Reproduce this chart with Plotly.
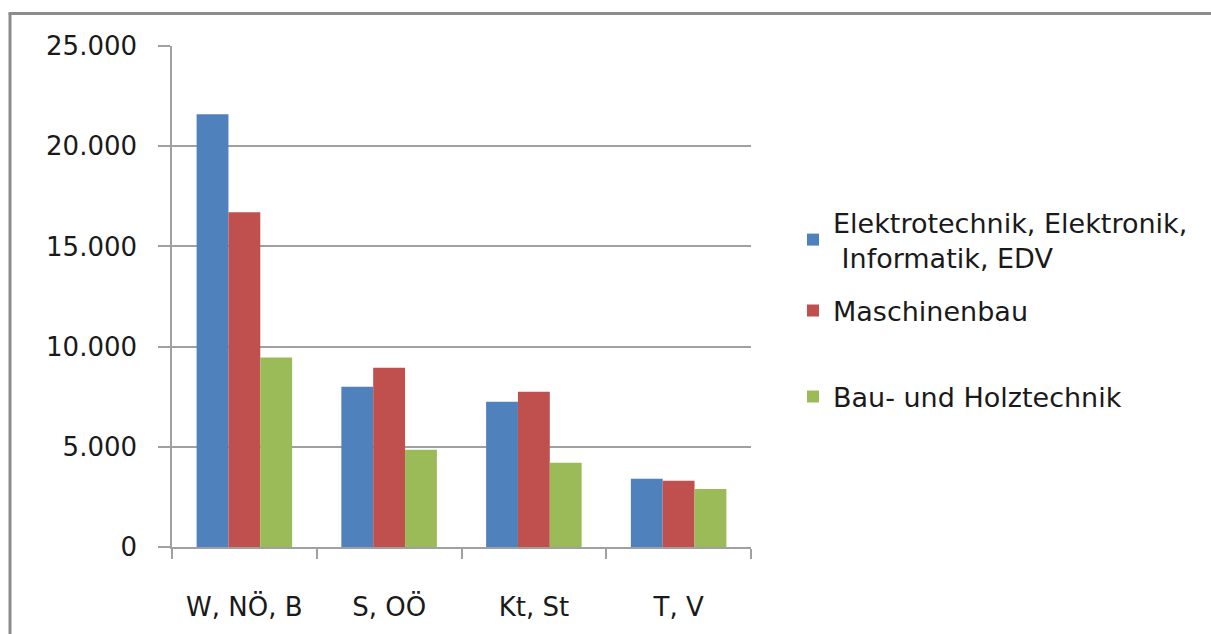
import plotly.graph_objects as go

categories = ["W, NÖ, B", "S, OÖ", "Kt, St", "T, V"]
elektro = [21600, 8000, 7250, 3400]
maschinenbau = [16700, 8950, 7750, 3300]
bau_holz = [9450, 4850, 4200, 2900]

series_names = ["Elektrotechnik, Elektronik,<br> Informatik, EDV", "Maschinenbau", "Bau- und Holztechnik"]
colors = ["#4F81BD", "#C0504D", "#9BBB59"]

W, H = 1211, 634
L, R, T, B = 172, 751, 46, 547.5

fig = go.Figure()
for i, (name, vals, col) in enumerate(zip(series_names, [elektro, maschinenbau, bau_holz], colors)):
    fig.add_trace(go.Bar(
        x=categories, y=vals, name=name,
        marker=dict(color=col, line=dict(width=0)),
        legend="legend" if i == 0 else f"legend{i+1}",
    ))

font_family = "DejaVu Sans"
leg_centers = [240, 311, 397]
leg_common = dict(
    xref="container", yref="container", x=793 / W, xanchor="left", yanchor="middle",
    font=dict(family=font_family, size=27, color="#1a1a1a"),
    bgcolor="rgba(0,0,0,0)", borderwidth=0,
)

def px_to_paper_x(px):
    return (px - L) / (R - L)

def py_to_paper_y(py):
    return (B - py) / (B - T)

fig.update_layout(
    width=W, height=H,
    margin=dict(l=L, r=W - R, t=T, b=H - B, pad=0),
    paper_bgcolor="white", plot_bgcolor="white",
    separators=",.",
    barmode="group", bargap=0.34, bargroupgap=0,
    font=dict(family=font_family, size=26, color="#1a1a1a"),
    showlegend=True,
    legend=dict(y=1 - leg_centers[0] / H, **leg_common),
    legend2=dict(y=1 - leg_centers[1] / H, **leg_common),
    legend3=dict(y=1 - leg_centers[2] / H, **leg_common),
    xaxis=dict(
        type="category", tickson="boundaries", ticks="outside", ticklen=10,
        tickcolor="#a0a0a0", tickwidth=1.5,
        showline=True, linecolor="#a0a0a0", linewidth=1.5,
        showgrid=False, ticklabelstandoff=36,
        tickfont=dict(family=font_family, size=26, color="#1a1a1a"),
    ),
    yaxis=dict(
        range=[0, 25000], dtick=5000, tick0=0, tickformat=",d",
        ticks="outside", ticklen=12, tickcolor="#a0a0a0", tickwidth=1.5,
        showline=True, linecolor="#a0a0a0", linewidth=1.5,
        showgrid=True, gridcolor="#a0a0a0", gridwidth=1.5,
        zeroline=False, ticklabelstandoff=16,
        tickfont=dict(family=font_family, size=26, color="#1a1a1a"),
    ),
)

# outer chart frame (left and top edges visible)
frame = dict(type="line", xref="paper", yref="paper", line=dict(color="#8c8c8c", width=3), layer="above")
fig.add_shape(x0=px_to_paper_x(10), x1=px_to_paper_x(10), y0=py_to_paper_y(640), y1=py_to_paper_y(13.5), **frame)
fig.add_shape(x0=px_to_paper_x(8.5), x1=px_to_paper_x(1215), y0=py_to_paper_y(13.5), y1=py_to_paper_y(13.5), **frame)

fig.write_html(
    "out.html",
    config={"displayModeBar": False},
    post_script="document.body.style.margin='0';document.body.style.padding='0';document.body.style.overflow='hidden';",
)
